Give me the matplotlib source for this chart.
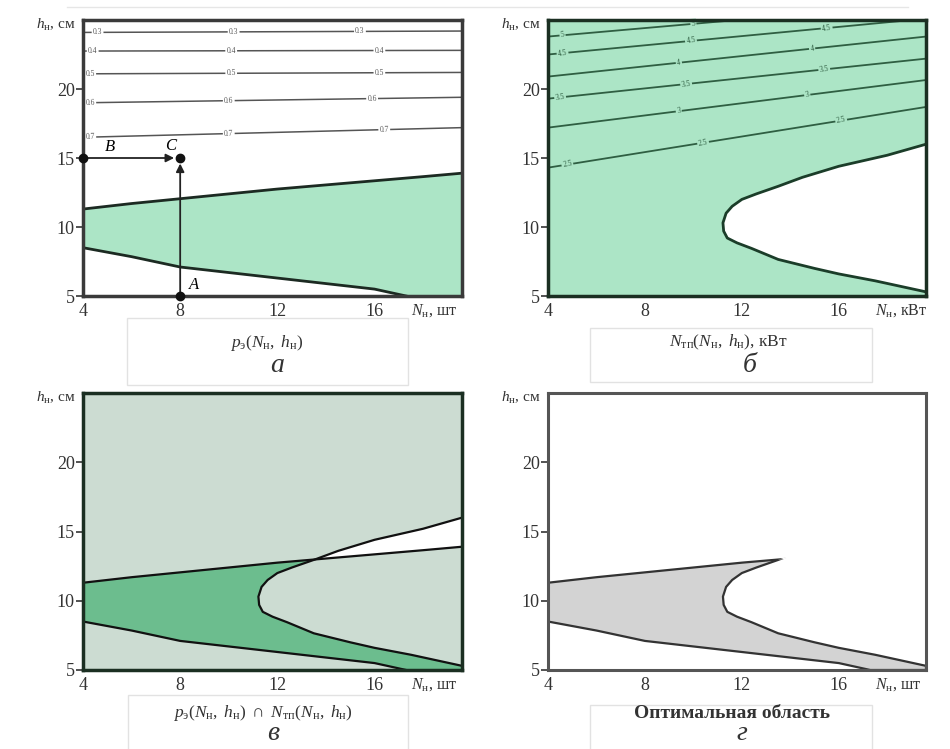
import numpy as np
import matplotlib.pyplot as plt
from matplotlib.patches import Polygon, Rectangle

plt.rcParams['font.family'] = ['Liberation Serif', 'DejaVu Serif']
plt.rcParams['mathtext.fontset'] = 'custom'
plt.rcParams['mathtext.rm'] = 'Liberation Serif'
plt.rcParams['mathtext.it'] = 'Liberation Serif:italic'

# axes range and ticks
x_lim = (4, 19.6)
y_lim = (5, 25)
x_ticks = [4, 8, 12, 16]
y_ticks = [5, 10, 15, 20]

# p_э(N, h) region borders (panel a)
pe_up_x = [4, 6, 8, 10, 12, 14, 16, 18, 19.6]
pe_up_y = [11.3, 11.7, 12.05, 12.4, 12.75, 13.05, 13.35, 13.65, 13.9]
pe_lo_x = [4, 6, 8, 10, 12, 14, 16, 17.3, 19.6]
pe_lo_y = [8.5, 7.85, 7.1, 6.7, 6.3, 5.9, 5.5, 5.0, 5.0]

# p_э isolines: label, h at left edge, h at right edge, label positions
pe_labels = ['0.3', '0.4', '0.5', '0.6', '0.7']
pe_left = [24.1, 22.75, 21.1, 19.0, 16.5]
pe_right = [24.2, 22.8, 21.2, 19.4, 17.2]
pe_lab_x = [[4.6, 10.2, 15.4], [4.4, 10.1, 16.2], [4.3, 10.1, 16.2],
            [4.3, 10.0, 15.9], [4.3, 10.0, 16.4]]

# N_тп(N, h) region border (panel b), going from top right around the nose
ntp_x = [19.6, 18, 16, 14.5, 13.5, 12.6, 12.0, 11.6, 11.35, 11.22, 11.25, 11.4,
         11.8, 12.4, 13.5, 15, 16, 17.5, 19.6]
ntp_y = [16.0, 15.2, 14.4, 13.6, 12.95, 12.4, 12.0, 11.5, 11.0, 10.3, 9.7, 9.2,
         8.85, 8.45, 7.65, 7.0, 6.6, 6.1, 5.3]

# N_тп isolines
ntp_labels = ['2.5', '3', '3.5', '4', '4.5', '5']
ntp_left = [14.3, 17.2, 19.3, 20.9, 22.5, 23.8]
ntp_right = [18.7, 20.65, 22.2, 23.8, 25.1, 26.2]
ntp_lab_x = [[4.8, 10.4, 16.1], [9.4, 14.7], [4.5, 9.7, 15.4],
             [9.4, 14.9], [4.6, 9.9, 15.5], [4.6, 10.0]]

mint = '#ace5c6'
pale = '#ccdcd2'
deep = '#6cbd8e'

fig = plt.figure(figsize=(9.5, 7.49), dpi=100)
W, H = 950, 749


def make_ax(l, t, r, b):
    return fig.add_axes([l / W, 1 - b / H, (r - l) / W, (b - t) / H])


def style(ax, frame, unit, lw=2.5):
    ax.set_xlim(*x_lim)
    ax.set_ylim(*y_lim)
    ax.set_xticks(x_ticks)
    ax.set_yticks(y_ticks)
    ax.tick_params(axis='y', length=5, width=1.3, color='#444', labelsize=13,
                   labelcolor='#333', pad=1)
    ax.tick_params(axis='x', length=0, labelsize=13, labelcolor='#333', pad=5)
    for s in ax.spines.values():
        s.set_color(frame)
        s.set_linewidth(lw)
        s.set_zorder(10)
    ax.text(-0.02, 0.982, r'$h_{\mathrm{н}}$, см', transform=ax.transAxes,
            ha='right', va='center', fontsize=11, color='#333')
    ax.text(0.865, -0.052, r'$N_{\mathrm{н}}$, ' + unit, transform=ax.transAxes,
            ha='left', va='center', fontsize=11.5, color='#333', clip_on=False)


def iso_label(ax, x, y, slope, text, fc, color):
    p0 = ax.transData.transform((x, y))
    p1 = ax.transData.transform((x + 1, y + slope))
    ang = np.degrees(np.arctan2(p1[1] - p0[1], p1[0] - p0[0]))
    ax.text(x, y, text, fontsize=5.5, ha='center', va='center', rotation=ang,
            color=color, zorder=4,
            bbox=dict(boxstyle='square,pad=0.15', fc=fc, ec='none'))


def pe_polygon():
    xs = list(pe_up_x) + list(pe_lo_x[::-1])
    ys = list(pe_up_y) + list(pe_lo_y[::-1])
    return np.column_stack([xs, ys])


def ntp_green_polygon():
    xs = [x_lim[0], x_lim[0], x_lim[1]] + list(ntp_x) + [x_lim[1]]
    ys = [y_lim[0], y_lim[1], y_lim[1]] + list(ntp_y) + [y_lim[0]]
    return np.column_stack([xs, ys])


def ntp_white_polygon():
    return np.column_stack([ntp_x + [x_lim[1]], ntp_y + [ntp_y[0]]])


# ---------- panel a ----------
ax = make_ax(83, 20, 462, 296)
ax.add_patch(Polygon(pe_polygon(), closed=True, fc=mint, ec='none', zorder=1))
ax.plot(pe_up_x, pe_up_y, color='#1c2a22', lw=2, zorder=3)
ax.plot(pe_lo_x[:-1], pe_lo_y[:-1], color='#1c2a22', lw=2, zorder=3)
for lab, yl, yr, lx in zip(pe_labels, pe_left, pe_right, pe_lab_x):
    ax.plot(x_lim, [yl, yr], color='#555', lw=1.1, zorder=2)
    k = (yr - yl) / (x_lim[1] - x_lim[0])
    for xx in lx:
        iso_label(ax, xx, yl + k * (xx - x_lim[0]), k, lab, 'white', '#555')
ax.annotate('', xy=(7.75, 15), xytext=(4, 15),
            arrowprops=dict(arrowstyle='-|>', color='#222', lw=1.3,
                            mutation_scale=12, shrinkA=0, shrinkB=0))
ax.annotate('', xy=(8, 14.6), xytext=(8, 5),
            arrowprops=dict(arrowstyle='-|>', color='#222', lw=1.3,
                            mutation_scale=12, shrinkA=0, shrinkB=0))
ax.plot([4, 8, 8], [15, 15, 5], 'o', color='#111', ms=6, clip_on=False, zorder=12)
ax.text(5.1, 15.8, 'B', style='italic', fontsize=12, ha='center', va='center')
ax.text(7.6, 15.85, 'C', style='italic', fontsize=12, ha='center', va='center')
ax.text(8.55, 5.8, 'A', style='italic', fontsize=12, ha='center', va='center')
style(ax, '#3a3a3a', 'шт')

# ---------- panel b ----------
ax = make_ax(548, 20, 926, 296)
ax.add_patch(Polygon(ntp_green_polygon(), closed=True, fc=mint, ec='none', zorder=1))
ax.plot(ntp_x, ntp_y, color='#1b3d29', lw=2, zorder=3)
for lab, yl, yr, lx in zip(ntp_labels, ntp_left, ntp_right, ntp_lab_x):
    ax.plot(x_lim, [yl, yr], color='#2f5e42', lw=1.3, zorder=2)
    k = (yr - yl) / (x_lim[1] - x_lim[0])
    for xx in lx:
        iso_label(ax, xx, yl + k * (xx - x_lim[0]), k, lab, mint, '#2f5e42')
style(ax, '#1b2f22', 'кВт')

# ---------- panel c ----------
ax = make_ax(83, 393, 462, 670)
ax.set_facecolor(pale)
ax.add_patch(Polygon(ntp_white_polygon(), closed=True, fc='white', ec='none', zorder=1))
ax.add_patch(Polygon(pe_polygon(), closed=True, fc=pale, ec='none', zorder=2))
both = Polygon(pe_polygon(), closed=True, fc=deep, ec='none', zorder=3)
ax.add_patch(both)
clip_b = Polygon(ntp_green_polygon(), closed=True, transform=ax.transData)
both.set_clip_path(clip_b)
ax.plot(pe_up_x, pe_up_y, color='#111', lw=1.6, zorder=4)
ax.plot(pe_lo_x[:-1], pe_lo_y[:-1], color='#111', lw=1.6, zorder=4)
ax.plot(ntp_x, ntp_y, color='#111', lw=1.6, zorder=4)
style(ax, '#1b2f22', 'шт')

# ---------- panel d ----------
ax = make_ax(548, 393, 926, 670)
opt = Polygon(pe_polygon(), closed=True, fc='#d3d3d3', ec='#333', lw=1.6, zorder=2)
ax.add_patch(opt)
opt.set_clip_path(Polygon(ntp_green_polygon(), closed=True, transform=ax.transData))
edge, = ax.plot(ntp_x, ntp_y, color='#333', lw=1.6, zorder=3)
edge.set_clip_path(Polygon(pe_polygon(), closed=True, transform=ax.transData))
style(ax, '#555555', 'шт', lw=2.2)

# ---------- captions ----------
fs = 12.5
fig.text(267 / W, 1 - 343 / H, r'$p_{\mathrm{э}}(N_{\mathrm{н}},\ h_{\mathrm{н}})$',
         ha='center', va='center', fontsize=fs, color='#333')
fig.text(728 / W, 1 - 342 / H,
         r'$N_{\mathrm{тп}}(N_{\mathrm{н}},\ h_{\mathrm{н}})$, кВт',
         ha='center', va='center', fontsize=fs, color='#333')
fig.text(263 / W, 1 - 713 / H,
         r'$p_{\mathrm{э}}(N_{\mathrm{н}},\ h_{\mathrm{н}})\ \cap\ N_{\mathrm{тп}}(N_{\mathrm{н}},\ h_{\mathrm{н}})$',
         ha='center', va='center', fontsize=fs, color='#333')
fig.text(732 / W, 1 - 713 / H, 'Оптимальная область', ha='center', va='center',
         fontsize=14, fontweight='bold', color='#333')

for x, y, letter in [(277, 366, 'а'), (750, 366, 'б'), (273, 734, 'в'), (742, 734, 'г')]:
    fig.text(x / W, 1 - y / H, letter, ha='center', va='center', fontsize=20,
             style='italic', color='#333')

# faint layout frames from the source document
for l, t, r, b in [(127, 318, 408, 385), (590, 328, 872, 382),
                   (128, 695, 408, 760), (590, 705, 872, 760)]:
    fig.add_artist(Rectangle((l / W, 1 - b / H), (r - l) / W, (b - t) / H,
                             transform=fig.transFigure, fill=False,
                             ec='#e2e2e2', lw=1))
fig.add_artist(plt.Line2D([67 / W, 908 / W], [1 - 7 / H, 1 - 7 / H],
                          transform=fig.transFigure, color='#e6e6e6', lw=1))

fig.savefig('out.png', dpi=100)
